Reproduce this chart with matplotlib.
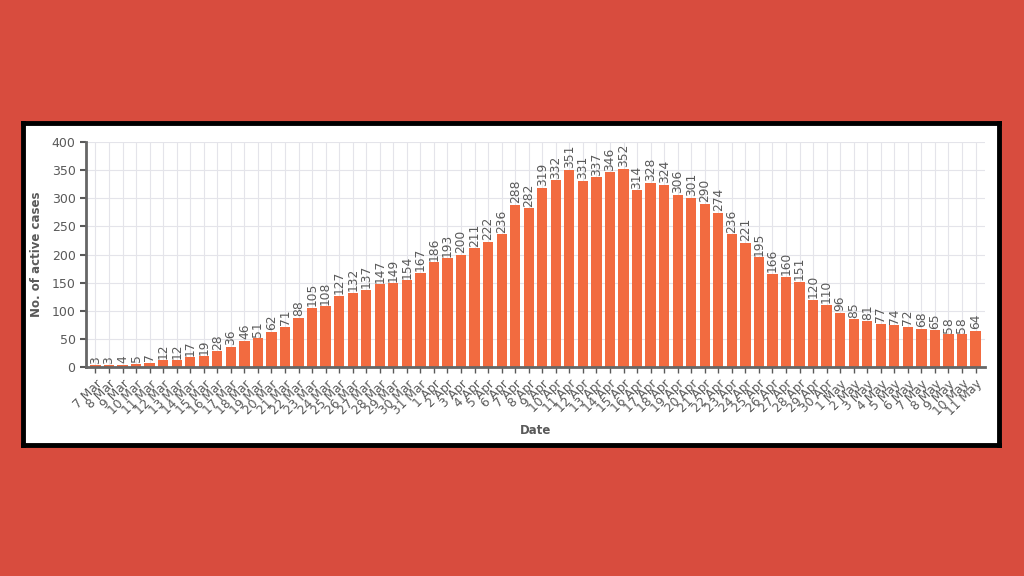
import numpy as np
import matplotlib
matplotlib.use('Agg')
import matplotlib.pyplot as plt

march = [f'{d} Mar' for d in range(7, 32)]
april = [f'{d} Apr' for d in range(1, 31)]
may = [f'{d} May' for d in range(1, 12)]
dates = march + april + may

active = [3, 3, 4, 5, 7, 12, 12, 17, 19, 28, 36, 46, 51, 62, 71, 88, 105, 108,
          127, 132, 137, 147, 149, 154, 167,
          186, 193, 200, 211, 222, 236, 288, 282, 319, 332, 351, 331, 337, 346,
          352, 314, 328, 324, 306, 301, 290, 274, 236, 221, 195, 166, 160, 151,
          120, 110,
          96, 85, 81, 77, 74, 72, 68, 65, 58, 58, 64]

bg = '#d84c3e'
bar_col = '#f26b40'
txt = '#595959'

fig = plt.figure(figsize=(10.24, 5.76), dpi=100, facecolor=bg)

# white panel with black frame, drawn as an empty axes behind the chart
panel = fig.add_axes([23/1024, 131/576, 976/1024, 322/576], zorder=-1)
panel.set_facecolor('white')
panel.set_xticks([])
panel.set_yticks([])
for s in panel.spines.values():
    s.set_color('black')
    s.set_linewidth(3.5)

ax = fig.add_axes([86/1024, 209/576, 899/1024, 225/576], zorder=1)
ax.set_facecolor('white')
x = np.arange(len(dates))
bars = ax.bar(x, active, width=0.76, color=bar_col, zorder=2)
for xi, v in zip(x, active):
    ax.text(xi, v + 3, str(v), rotation=90, ha='center', va='bottom',
            fontsize=8.8, color=txt, zorder=3)

ax.set_xlim(-0.7, len(dates) - 0.3)
ax.set_ylim(0, 400)
ax.set_yticks(np.arange(0, 401, 50))
ax.set_xticks(x)
ax.set_xticklabels(dates, rotation=45, ha='right', rotation_mode='anchor',
                   fontsize=8.8, color=txt)
ax.tick_params(axis='y', labelsize=9, colors=txt, length=4, width=1.5)
ax.tick_params(axis='x', length=4, width=1, colors=txt)
ax.grid(True, color='#e4e4ea', linewidth=0.8, zorder=0)
ax.set_axisbelow(True)
for s in ['top', 'right']:
    ax.spines[s].set_visible(False)
for s in ['left', 'bottom']:
    ax.spines[s].set_color('#666666')
    ax.spines[s].set_linewidth(2)

ax.set_xlabel('Date', fontsize=8.5, fontweight='bold', color=txt, labelpad=4)
ax.set_ylabel('No. of active cases', fontsize=8.5, fontweight='bold',
              color=txt, labelpad=6)

fig.savefig('out.png', dpi=100, facecolor=bg)
